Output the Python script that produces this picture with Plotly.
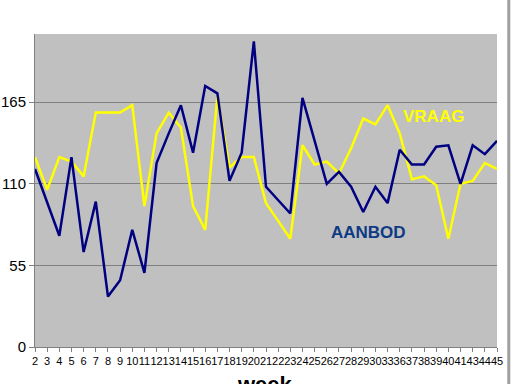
import plotly.graph_objects as go

weeks = [str(w) for w in list(range(2, 31)) + [33, 36, 37, 38, 39, 40, 41, 43, 44, 45]]

aanbod = [120, 97, 75, 128, 64, 98, 34, 45, 79, 50, 124, 144, 163, 131, 176, 171, 112, 131,
          206, 108, 99, 90, 168, 139, 110, 118, 108, 91, 108, 97, 133, 123, 123, 135, 136,
          110, 136, 130, 139]

vraag = [128, 106, 128, 125, 115, 158, 158, 158, 163, 95, 144, 158, 148, 95, 79, 169, 121,
         128, 128, 97, 85, 73, 136, 123, 125, 117, 134, 154, 150, 163, 144, 113, 115, 109,
         73, 110, 112, 124, 120]

y_ticks = [0, 55, 110, 165]

fig = go.Figure()
fig.add_trace(go.Scatter(x=weeks, y=vraag, mode="lines", name="VRAAG",
                         line=dict(color="#FFFF00", width=2.5)))
fig.add_trace(go.Scatter(x=weeks, y=aanbod, mode="lines", name="AANBOD",
                         line=dict(color="#000080", width=2.5)))

fig.update_layout(
    width=512, height=384,
    margin=dict(l=35, r=15, t=34, b=37, autoexpand=False),
    paper_bgcolor="white",
    plot_bgcolor="#C0C0C0",
    showlegend=False,
    font=dict(family="Liberation Sans, Arial", color="black"),
    xaxis=dict(type="category", range=[0, len(weeks) - 1], showgrid=False,
               tickmode="array", tickvals=weeks, ticktext=weeks,
               tickfont=dict(size=11), ticks="outside", ticklen=4, tickcolor="#808080",
               showline=True, linecolor="#808080", linewidth=1, zeroline=False,
               automargin=False, tickangle=0),
    yaxis=dict(range=[0, 211], tickvals=y_ticks, showgrid=True, gridcolor="#808080",
               gridwidth=1, tickfont=dict(size=15), ticks="outside", ticklen=5,
               tickcolor="#808080", showline=True, linecolor="#808080", zeroline=False,
               automargin=False),
    annotations=[
        dict(text="<b>VRAAG</b>", x=0.863, y=0.735, xref="paper", yref="paper",
             showarrow=False, font=dict(size=17, color="#FFFF00"), xanchor="center",
             yanchor="middle"),
        dict(text="<b>AANBOD</b>", x=0.722, y=0.367, xref="paper", yref="paper",
             showarrow=False, font=dict(size=17, color="#0D3A85"), xanchor="center",
             yanchor="middle"),
        dict(text="<b>week</b>", x=0.498, y=-0.072, xref="paper", yref="paper",
             showarrow=False, font=dict(size=22, color="black"), xanchor="center",
             yanchor="top"),
    ],
    shapes=[
        dict(type="line", xref="paper", yref="paper", x0=1.0255, x1=1.0255, y0=-0.12,
             y1=1.12, line=dict(color="#A0A0A0", width=3)),
    ],
)

fig.write_html("out.html", config={"displayModeBar": False},
               post_script="document.body.style.margin='0';document.body.style.overflow='hidden';")
